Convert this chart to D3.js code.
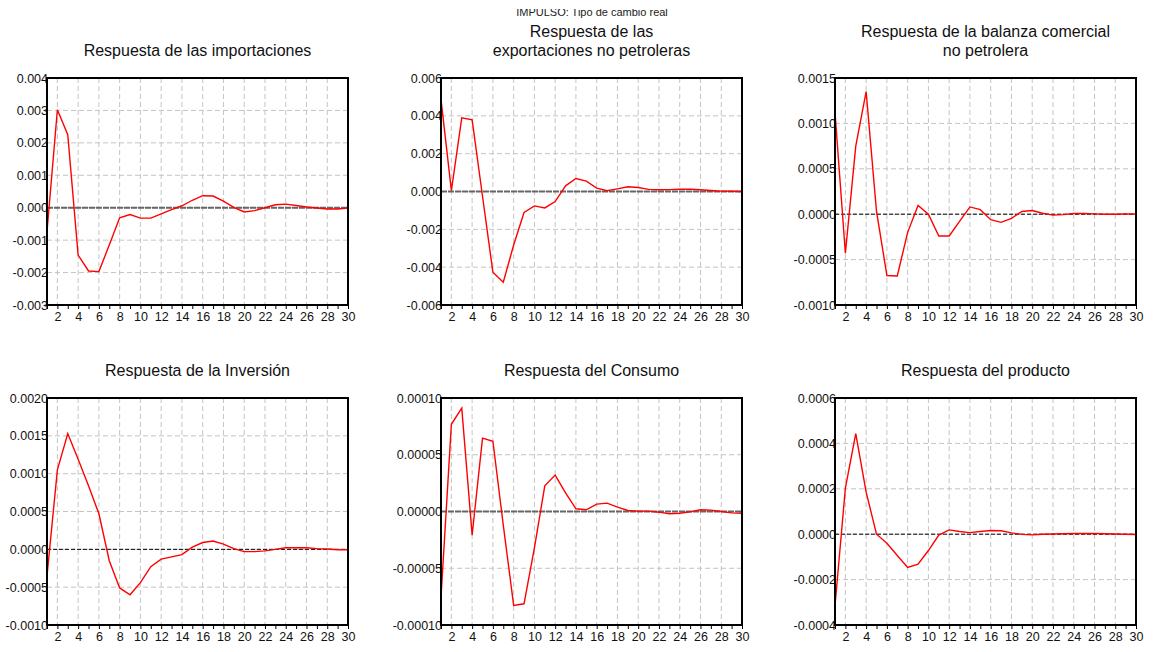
<!DOCTYPE html>
<html>
<head>
<meta charset="utf-8">
<script src="https://cdn.jsdelivr.net/npm/d3@7"></script>
<style>
body { margin: 0; background: #fff; }
text { font-family: "Liberation Sans", Arial, sans-serif; }
</style>
</head>
<body>
<div id="chart"></div>
<script>
// horizonte de la respuesta
var periods = d3.range(1, 31);

var importaciones = [-0.00074, 0.00302, 0.00225, -0.00146, -0.00195, -0.00197, -0.00115, -0.00031, -0.00021, -0.00032,
  -0.00032, -0.00019, -0.00006, 0.00006, 0.00023, 0.00037, 0.00036, 0.00020, 0.00001, -0.00013,
  -0.00009, 0.00000, 0.00009, 0.00011, 0.00007, 0.00002, -0.00001, -0.00004, -0.00004, -0.00001];

var exportaciones = [0.00487, 0.00005, 0.00389, 0.00379, -0.00025, -0.00427, -0.00480, -0.00283, -0.00111, -0.00076,
  -0.00087, -0.00053, 0.00030, 0.00069, 0.00055, 0.00018, 0.00004, 0.00014, 0.00025, 0.00021,
  0.00011, 0.00009, 0.00010, 0.00012, 0.00012, 0.00009, 0.00005, 0.00002, 0.00001, 0.00000];

var balanza = [0.00112, -0.00043, 0.00075, 0.00135, 0.00003, -0.000675, -0.00068, -0.00020, 0.000096, 0.00000,
  -0.00024, -0.00024, -0.00008, 0.00008, 0.00005, -0.00006, -0.00009, -0.000045, 0.00003, 0.00004,
  0.00001, -0.00001, -0.000005, 0.000008, 0.000008, 0.000004, 0.00000, 0.00000, 0.000003, 0.000003];

var inversion = [-0.00035, 0.00105, 0.00153, 0.00119, 0.00084, 0.00047, -0.00015, -0.00051, -0.00060, -0.00044,
  -0.00023, -0.00013, -0.00010, -0.00007, 0.00003, 0.00009, 0.00011, 0.00007, 0.00001, -0.00003,
  -0.00003, -0.00002, 0.00000, 0.00002, 0.00002, 0.00002, 0.00001, 0.000005, -0.000005, -0.000005];

var consumo = [-7.56e-5, 7.68e-5, 9.1e-5, -2.08e-5, 6.46e-5, 6.19e-5, -1.2e-5, -8.27e-5, -8.13e-5, -3.2e-5,
  2.26e-5, 3.21e-5, 1.64e-5, 0.24e-5, 0.15e-5, 0.65e-5, 0.74e-5, 0.39e-5, 0.09e-5, 0.03e-5,
  0.03e-5, -0.06e-5, -0.2e-5, -0.15e-5, -0.03e-5, 0.15e-5, 0.12e-5, 0.0, -0.12e-5, -0.15e-5];

var producto = [-3.15e-4, 2.03e-4, 4.43e-4, 1.85e-4, 0.0, -0.40e-4, -0.94e-4, -1.46e-4, -1.32e-4, -0.72e-4,
  -0.04e-4, 0.19e-4, 0.12e-4, 0.07e-4, 0.12e-4, 0.16e-4, 0.15e-4, 0.06e-4, -0.01e-4, -0.03e-4,
  0.0, 0.01e-4, 0.02e-4, 0.03e-4, 0.03e-4, 0.03e-4, 0.02e-4, 0.01e-4, 0.0, -0.01e-4];

var titles = [
  ["Respuesta de las importaciones"],
  ["Respuesta de las", "exportaciones no petroleras"],
  ["Respuesta de la balanza comercial", "no petrolera"],
  ["Respuesta de la Inversión"],
  ["Respuesta del Consumo"],
  ["Respuesta del producto"]
];
var series = [importaciones, exportaciones, balanza, inversion, consumo, producto];
var yMin = [-0.003, -0.006, -0.0010, -0.0010, -0.00010, -0.0004];
var yMax = [0.004, 0.006, 0.0015, 0.0020, 0.00010, 0.0006];
var yStep = [0.001, 0.002, 0.0005, 0.0005, 0.00005, 0.0002];
var yDecimals = [3, 3, 4, 4, 5, 4];
var zeroBold = [true, true, false, false, true, false];

var W = 1153, H = 652;
var colX = [47, 441, 835], rowY = [78, 398];
var pw = 301, ph = 227;

var locale = d3.formatLocale({decimal: ".", thousands: ",", grouping: [3], currency: ["$", ""], minus: "-"});

var svg = d3.select("#chart").append("svg")
  .attr("width", W)
  .attr("height", H);

// titulo general (cortado arriba como en el original)
svg.append("clipPath").attr("id", "topclip")
  .append("rect").attr("x", 0).attr("y", 9).attr("width", W).attr("height", 20);
svg.append("text")
  .attr("x", 592).attr("y", 16)
  .attr("text-anchor", "middle")
  .attr("font-size", 11)
  .attr("fill", "#222")
  .attr("clip-path", "url(#topclip)")
  .text("IMPULSO: Tipo de cambio real");

series.forEach(function(vals, i) {
  var left = colX[i % 3], top = rowY[Math.floor(i / 3)];
  var g = svg.append("g").attr("transform", "translate(" + left + "," + top + ")");

  var x = d3.scaleLinear().domain([1, 30]).range([0, pw]);
  var y = d3.scaleLinear().domain([yMin[i], yMax[i]]).range([ph, 0]);
  var yTicks = d3.range(0, Math.round((yMax[i] - yMin[i]) / yStep[i]) + 1)
    .map(function(k) { return yMin[i] + k * yStep[i]; });
  var fmt = locale.format("." + yDecimals[i] + "f");

  // titulo del panel
  var t = titles[i];
  t.forEach(function(line, j) {
    g.append("text")
      .attr("x", pw / 2)
      .attr("y", -22 - (t.length - 1 - j) * 19)
      .attr("text-anchor", "middle")
      .attr("font-size", 16)
      .attr("fill", "#111")
      .text(line);
  });

  // rejilla
  g.append("g").selectAll("line.v")
    .data(periods.filter(function(p) { return p % 2 == 0 && p < 30; }))
    .enter().append("line")
    .attr("x1", function(d) { return x(d); })
    .attr("x2", function(d) { return x(d); })
    .attr("y1", 0).attr("y2", ph)
    .attr("stroke", "#c4c4c4")
    .attr("stroke-dasharray", "5,3");

  g.append("g").selectAll("line.h")
    .data(yTicks.slice(1, -1))
    .enter().append("line")
    .attr("x1", 0).attr("x2", pw)
    .attr("y1", function(d) { return y(d); })
    .attr("y2", function(d) { return y(d); })
    .attr("stroke", "#c4c4c4")
    .attr("stroke-dasharray", "5,3");

  // linea de cero
  g.append("line")
    .attr("x1", 0).attr("x2", pw)
    .attr("y1", y(0)).attr("y2", y(0))
    .attr("stroke", zeroBold[i] ? "#666" : "#000")
    .attr("stroke-width", zeroBold[i] ? 2 : 1)
    .attr("stroke-dasharray", zeroBold[i] ? "6,1" : "4,2");

  // respuesta
  var line = d3.line()
    .x(function(d, k) { return x(periods[k]); })
    .y(function(d) { return y(d); });
  g.append("path")
    .datum(vals)
    .attr("fill", "none")
    .attr("stroke", "#ff0000")
    .attr("stroke-width", 1.4)
    .attr("d", line);

  // eje x
  var xAxis = d3.axisBottom(x)
    .tickValues(periods)
    .tickSize(4)
    .tickPadding(3)
    .tickFormat(function(d) { return d % 2 == 0 ? d : ""; });
  var gx = g.append("g").attr("transform", "translate(0," + ph + ")").call(xAxis);
  gx.select(".domain").remove();
  gx.selectAll("text").attr("font-size", 12.5).attr("fill", "#111")
    .style("font-family", "'Liberation Sans', Arial, sans-serif");

  // eje y
  var yAxis = d3.axisLeft(y)
    .tickValues(yTicks)
    .tickSize(0)
    .tickPadding(-1)
    .tickFormat(fmt);
  var gy = g.append("g").call(yAxis);
  gy.select(".domain").remove();
  gy.selectAll("text").attr("font-size", 12.5).attr("fill", "#111")
    .style("font-family", "'Liberation Sans', Arial, sans-serif");

  // marco
  g.append("rect")
    .attr("x", 0).attr("y", 0)
    .attr("width", pw).attr("height", ph)
    .attr("fill", "none")
    .attr("stroke", "#000")
    .attr("stroke-width", 2);
});
</script>
</body>
</html>
